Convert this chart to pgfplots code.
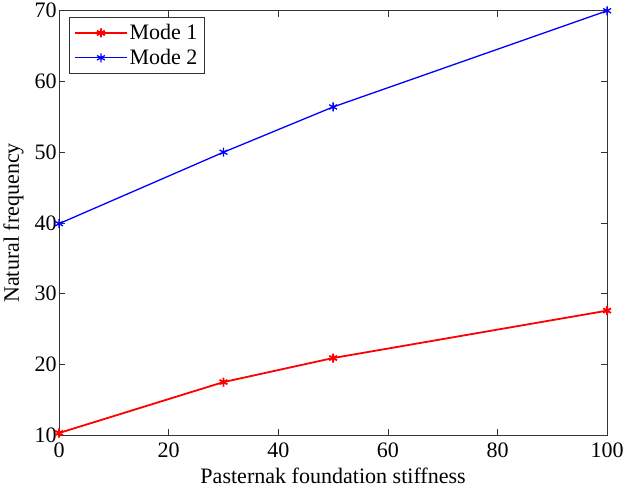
\documentclass[border=0pt]{standalone}
\usepackage{fontspec}
\setmainfont{Liberation Serif}
\usepackage{pgfplots}
\pgfplotsset{compat=1.18}
\begin{document}
\begin{tikzpicture}
  \begin{axis}[
    scale only axis,
    width=545bp, height=422bp,
    xmin=0, xmax=100, ymin=10, ymax=70,
    xtick={0,20,...,100}, ytick={10,20,...,70},
    tick align=inside,
    major tick length=6bp,
    axis line style={line width=0.9pt, black!80},
    every tick/.style={black!80, line width=0.8pt},
    tick label style={font=\fontsize{22}{26}\selectfont},
    label style={font=\fontsize{22}{26}\selectfont},
    /pgf/number format/assume math mode=true,
    xticklabel style={yshift=-4bp},
    yticklabel style={xshift=1bp},
    xlabel={Pasternak foundation stiffness},
    ylabel={Natural frequency},
    xlabel style={yshift=-4bp},
    ylabel style={yshift=4bp},
    legend style={font=\fontsize{22}{26}\selectfont, draw=black!80, line width=0.8pt,
      at={(0.018,0.985)}, anchor=north west, inner xsep=5bp, inner ysep=5bp,
      row sep=4bp},
    legend image code/.code={
      \draw[#1, mark=none] (0cm,0cm) -- (1.8cm,0cm);
      \draw[#1, only marks] plot coordinates {(0.9cm,0cm)};
    },
    legend cell align=left,
    clip=false,
  ]
    \addplot[red, line width=1.8pt, mark=asterisk, mark size=4.5pt] coordinates {
      (0,10.3) (30,17.5) (50,20.9) (100,27.6)
    };
    \addlegendentry{Mode 1}
    \addplot[blue, line width=1.3pt, mark=asterisk, mark size=4.5pt] coordinates {
      (0,39.9) (30,50) (50,56.4) (100,70)
    };
    \addlegendentry{Mode 2}
  \end{axis}
\end{tikzpicture}
\end{document}
